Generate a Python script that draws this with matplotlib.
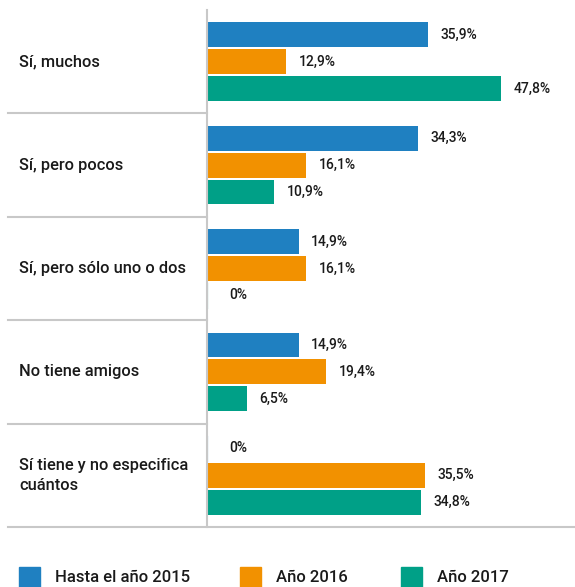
import matplotlib
matplotlib.use("Agg")
import matplotlib.pyplot as plt
from matplotlib.patches import Rectangle
from matplotlib.transforms import blended_transform_factory
import numpy as np

plt.rcParams['font.family'] = ['Roboto', 'DejaVu Sans']

categories = ["Sí, muchos", "Sí, pero pocos", "Sí, pero sólo uno o dos",
              "No tiene amigos", "Sí tiene y no especifica\ncuántos"]
series_names = ["Hasta el año 2015", "Año 2016", "Año 2017"]
hasta_2015 = [35.9, 34.3, 14.9, 14.9, 0.0]
anio_2016 = [12.9, 16.1, 16.1, 19.4, 35.5]
anio_2017 = [47.8, 10.9, 0.0, 6.5, 34.8]
colors = ["#1f80c1", "#f29100", "#00a087"]

W, H = 575, 587
fig = plt.figure(figsize=(W / 100, H / 100), dpi=100)
ax = fig.add_axes([207 / W, 1 - 527 / H, 1 - 207 / W, (527 - 10) / H])

y = np.arange(len(categories))
offsets = [-0.26, 0.0, 0.26]
bar_h = 0.24
grid_col = "#c8c8c8"
text_col = "#1a1a1a"

for vals, off, col in zip([hasta_2015, anio_2016, anio_2017], offsets, colors):
    ax.barh(y + off, vals, height=bar_h, color=col, edgecolor="none")
    for yi, v in zip(y, vals):
        if v == 0:
            ax.plot([0, 0], [yi + off - bar_h / 2, yi + off + bar_h / 2],
                    color=col, lw=0.8)
        label = f"{v:.1f}".replace(".", ",") + "%" if v != 0 else "0%"
        ax.text(v + (3.6 if v == 0 else 2.0), yi + off, label,
                va="center", ha="left", fontsize=10, fontweight="medium",
                color=text_col)

ax.set_xlim(0, (W - 207) / 6.15)
ax.set_ylim(len(categories) - 0.5, -0.5)
ax.set_xticks([])
ax.set_yticks([])
for s in ["top", "right", "bottom"]:
    ax.spines[s].set_visible(False)
ax.spines["left"].set_color(grid_col)
ax.spines["left"].set_linewidth(1.5)

# category labels and separators
tr = blended_transform_factory(fig.transFigure, ax.transData)
for yi, cat in zip(y, categories):
    ax.text(19 / W, yi, cat, transform=tr, ha="left", va="center",
            fontsize=11.8, fontweight="medium", color=text_col,
            linespacing=1.4)
for b in np.arange(0.5, len(categories) - 1, 1.0):
    ax.plot([8 / W, 207 / W], [b, b], transform=tr, color=grid_col,
            lw=1.5, clip_on=False)
ax.plot([8 / W, 1.0], [len(categories) - 0.5] * 2, transform=tr,
        color=grid_col, lw=1.5, clip_on=False)

# legend
leg_x = [19, 240, 401]
for x0, name, col in zip(leg_x, series_names, colors):
    fig.patches.append(Rectangle((x0 / W, 1 - 588 / H), 21 / W, 21 / H,
                                 transform=fig.transFigure, color=col))
    fig.text((x0 + 36) / W, 1 - 578 / H, name, ha="left", va="center",
             fontsize=12, fontweight="medium", color=text_col)

fig.savefig("out.png", dpi=100)
